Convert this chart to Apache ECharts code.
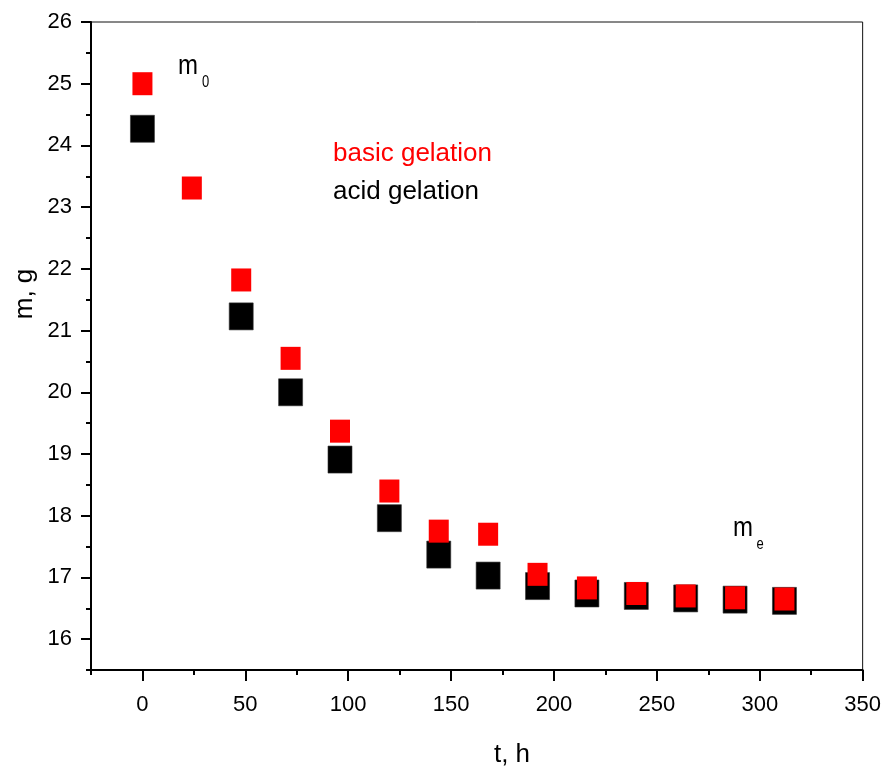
<!DOCTYPE html>
<html>
<head>
<meta charset="utf-8">
<title>Mass loss during drying</title>
<script src="https://cdn.jsdelivr.net/npm/echarts@6/dist/echarts.min.js"></script>
<style>
  html, body { margin: 0; padding: 0; background: #fff; }
  #chart { width: 884px; height: 769px; }
</style>
</head>
<body>
<div id="chart"></div>
<script>
// Drying time, h
const timeBasic = [0, 24, 48, 72, 96, 120, 144, 168, 192, 216, 240, 264, 288, 312];
const timeAcid  = [0, 48, 72, 96, 120, 144, 168, 192, 216, 240, 264, 288, 312];
// Sample mass, g
const massBasic = [25.0, 23.31, 21.82, 20.55, 19.37, 18.40, 17.75, 17.70, 17.05, 16.83, 16.74, 16.70, 16.67, 16.65];
const massAcid  = [24.27, 21.23, 20.0, 18.91, 17.96, 17.37, 17.03, 16.86, 16.74, 16.70, 16.66, 16.64, 16.62];
// Axis ticks
const xMajorTicks = [0, 50, 100, 150, 200, 250, 300, 350];
const xMinorTicks = [-25, 25, 75, 125, 175, 225, 275, 325];
const yMajorTicks = [16, 17, 18, 19, 20, 21, 22, 23, 24, 25, 26];
const yMinorTicks = [15.5, 16.5, 17.5, 18.5, 19.5, 20.5, 21.5, 22.5, 23.5, 24.5, 25.5];

const FONT = "'Liberation Sans', Arial, sans-serif";

const pairs = (xs, ys) => xs.map((x, i) => [x, ys[i]]);

const chart = echarts.init(document.getElementById('chart'), null, { renderer: 'canvas' });

const label = (text, x, y, size, color, extra) => Object.assign({
  type: 'text', x: x, y: y,
  style: { text: text, font: size + 'px ' + FONT, fill: color || '#000',
           align: 'left', verticalAlign: 'middle' }
}, extra || {});

chart.setOption({
  animation: false,
  backgroundColor: '#fff',
  grid: {
    left: 91, right: 21, top: 22, bottom: 99,
    show: true, borderColor: '#111', borderWidth: 1, backgroundColor: 'transparent'
  },
  xAxis: [
    {
      type: 'value', min: -25, max: 350, position: 'bottom',
      axisLine: { show: true, onZero: false, lineStyle: { color: '#000', width: 2 } },
      axisTick: { show: true, inside: false, length: 11, customValues: xMajorTicks,
                  lineStyle: { color: '#000', width: 2 } },
      axisLabel: { show: true, customValues: xMajorTicks, margin: 24,
                   fontSize: 22, fontFamily: FONT, color: '#000' },
      splitLine: { show: false }
    },
    {
      type: 'value', min: -25, max: 350, position: 'bottom',
      axisLine: { show: false, onZero: false },
      axisTick: { show: true, inside: false, length: 5, customValues: xMinorTicks,
                  lineStyle: { color: '#000', width: 2 } },
      axisLabel: { show: false },
      splitLine: { show: false }
    }
  ],
  yAxis: [
    {
      type: 'value', min: 15.5, max: 26, position: 'left',
      axisLine: { show: true, onZero: false, lineStyle: { color: '#000', width: 2 } },
      axisTick: { show: true, inside: false, length: 10, customValues: yMajorTicks,
                  lineStyle: { color: '#000', width: 2 } },
      axisLabel: { show: true, customValues: yMajorTicks, margin: 19,
                   fontSize: 22, fontFamily: FONT, color: '#000' },
      splitLine: { show: false }
    },
    {
      type: 'value', min: 15.5, max: 26, position: 'left',
      axisLine: { show: false, onZero: false },
      axisTick: { show: true, inside: false, length: 5, customValues: yMinorTicks,
                  lineStyle: { color: '#000', width: 2 } },
      axisLabel: { show: false },
      splitLine: { show: false }
    }
  ],
  series: [
    {
      name: 'acid gelation', type: 'scatter', xAxisIndex: 0, yAxisIndex: 0,
      symbol: 'rect', symbolSize: [24, 27], z: 2,
      itemStyle: { color: '#000', opacity: 1, borderColor: '#333', borderWidth: 0.6 },
      data: pairs(timeAcid, massAcid)
    },
    {
      name: 'basic gelation', type: 'scatter', xAxisIndex: 0, yAxisIndex: 0,
      symbol: 'rect', symbolSize: [20, 23], z: 3,
      itemStyle: { color: '#ff0000', opacity: 1 },
      data: pairs(timeBasic, massBasic)
    }
  ],
  graphic: [
    // series captions
    label('basic gelation', 333, 154, 26, '#ff0000'),
    label('acid gelation', 333, 192, 26, '#000'),
    // initial and equilibrium mass markers
    label('m', 178, 66, 24, '#000', { scaleY: 1.15 }),
    label('0', 202, 83, 13, '#000', { scaleY: 1.2 }),
    label('m', 733, 528, 24, '#000', { scaleY: 1.15 }),
    label('e', 756.5, 545, 13, '#000', { scaleY: 1.2 }),
    // axis titles
    {
      type: 'text', x: 512, y: 755,
      style: { text: 't, h', font: '26px ' + FONT, fill: '#000', align: 'center', verticalAlign: 'middle' }
    },
    {
      type: 'text', x: 25, y: 294, rotation: Math.PI / 2,
      style: { text: 'm, g', font: '26px ' + FONT, fill: '#000', align: 'center', verticalAlign: 'middle' }
    }
  ]
});
</script>
</body>
</html>
